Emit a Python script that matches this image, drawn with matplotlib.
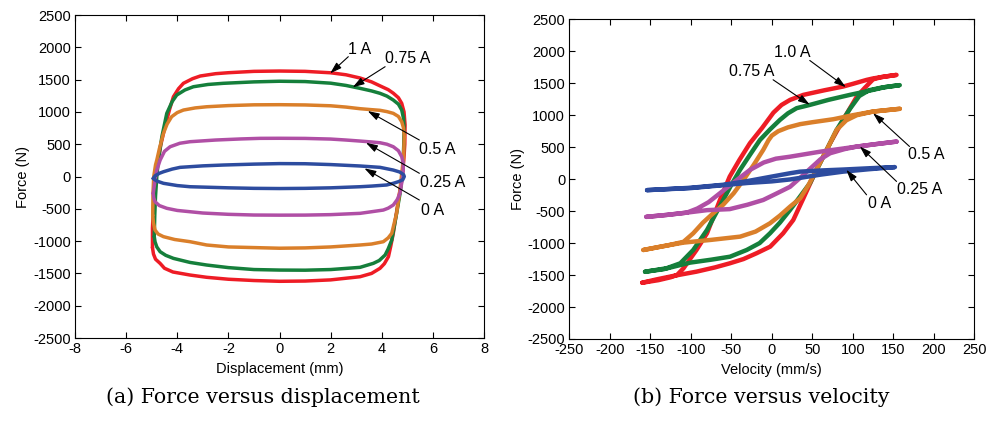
import matplotlib
matplotlib.use("Agg")
import matplotlib.pyplot as plt
import numpy as np

plt.rcParams['font.family'] = ['Liberation Sans', 'DejaVu Sans']
plt.rcParams['axes.unicode_minus'] = False

# ---------------- colours per current ----------------
currents = ["1 A", "0.75 A", "0.5 A", "0.25 A", "0 A"]
colors = ["#EE1C25", "#157F3B", "#DA7F2A", "#B04FA5", "#2D4C9F"]

# ---------------- (a) Force vs displacement loops ----------------
d_x_100 = [-4.97, -4.97, -4.93, -4.87, -4.78, -4.65, -4.48, -4.3, -4.15, -3.95, -3.76, -3.4, -3.1, -2.5, -2.0, -1.0, 0.0,
           1.0, 2.0, 2.6, 3.15, 3.6, 3.95, 4.25, 4.45, 4.65, 4.78, 4.87, 4.91, 4.9, 4.86, 4.78, 4.65, 4.45, 4.35, 4.26,
           4.1, 3.93, 3.6, 3.15, 2.0, 1.0, 0.0, -1.0, -2.0, -2.85, -3.5, -4.17, -4.5, -4.67, -4.85, -4.93, -4.97]
d_f_100 = [-1100, -800, -450, -150, 150, 480, 770, 1040, 1235, 1360, 1443, 1515, 1556, 1592, 1607, 1628, 1633,
           1628, 1606, 1575, 1525, 1465, 1400, 1345, 1290, 1220, 1133, 1000, 800, 500, 250, -54, -364, -879, -1080, -1241,
           -1350, -1421, -1500, -1551, -1600, -1618, -1622, -1610, -1590, -1560, -1525, -1478, -1420, -1345, -1280, -1200, -1100]

d_x_075 = [-4.9, -4.88, -4.85, -4.8, -4.74, -4.6, -4.41, -4.2, -4.02, -3.7, -3.37, -2.8, -2.2, -1.0, 0.0, 1.0, 2.0, 2.6,
           3.15, 3.6, 3.93, 4.2, 4.45, 4.65, 4.78, 4.85, 4.87, 4.86, 4.82, 4.72, 4.58, 4.39, 4.25, 4.13, 3.9, 3.67, 3.15,
           2.0, 1.0, 0.0, -1.0, -2.0, -2.85, -3.5, -4.15, -4.45, -4.67, -4.8, -4.87, -4.9]
d_f_075 = [-930, -600, -300, 0, 255, 620, 978, 1160, 1262, 1340, 1390, 1425, 1443, 1465, 1475, 1470, 1445, 1410,
           1365, 1325, 1288, 1245, 1184, 1120, 1029, 900, 771, 500, 100, -250, -570, -983, -1120, -1215, -1300, -1344, -1406,
           -1440, -1450, -1448, -1440, -1410, -1370, -1330, -1267, -1220, -1164, -1090, -1010, -930]

d_x_050 = [-4.96, -4.95, -4.92, -4.85, -4.8, -4.7, -4.54, -4.4, -4.22, -4.0, -3.76, -3.3, -2.85, -2.0, -1.0, 0.0, 1.0,
           2.0, 2.6, 3.15, 3.6, 3.93, 4.2, 4.45, 4.65, 4.78, 4.85, 4.88, 4.85, 4.78, 4.71, 4.58, 4.45, 4.39, 4.25, 4.06,
           3.6, 3.15, 2.0, 1.0, 0.0, -1.0, -2.0, -2.85, -3.5, -4.1, -4.54, -4.75, -4.87, -4.93, -4.96]
d_f_050 = [-600, -260, 0, 180, 255, 430, 669, 810, 926, 990, 1029, 1062, 1080, 1098, 1110, 1112, 1108,
           1095, 1075, 1050, 1035, 1025, 1005, 978, 930, 848, 750, 616, 300, 50, -209, -570, -780, -879, -950, -1009,
           -1045, -1060, -1090, -1105, -1110, -1100, -1090, -1060, -1009, -975, -931, -890, -828, -720, -600]

d_x_025 = [-4.94, -4.9, -4.87, -4.8, -4.67, -4.5, -4.28, -3.9, -3.5, -2.5, -1.5, -0.76, 0.0, 1.0, 2.0, 2.6, 3.15, 3.6,
           3.93, 4.2, 4.45, 4.65, 4.78, 4.84, 4.84, 4.8, 4.71, 4.6, 4.45, 4.25, 4.06, 3.6, 3.15, 2.0, 1.0, 0.0, -1.0,
           -2.0, -3.0, -3.5, -4.0, -4.41, -4.7, -4.87, -4.92, -4.94]
d_f_025 = [-260, -150, -54, 100, 255, 390, 461, 515, 539, 565, 582, 591, 592, 590, 580, 565, 549, 535,
           523, 500, 461, 400, 307, 200, 100, -50, -260, -360, -441, -490, -519, -545, -570, -590, -597, -598, -596,
           -585, -565, -545, -525, -492, -450, -390, -330, -260]

d_x_000 = [-4.94, -4.87, -4.7, -4.54, -4.2, -3.89, -3.0, -2.2, -1.0, 0.0, 1.0, 2.0, 3.15, 3.93, 4.45, 4.7, 4.85, 4.88,
           4.82, 4.65, 4.45, 4.19, 3.6, 3.15, 2.0, 1.0, 0.0, -1.0, -2.0, -3.5, -4.0, -4.54, -4.8, -4.94]
d_f_000 = [-30, 10, 50, 74, 115, 142, 165, 178, 192, 200, 198, 185, 163, 142, 100, 70, 30, 0,
           -50, -80, -105, -131, -148, -158, -175, -183, -186, -183, -175, -158, -140, -105, -70, -30]

# ---------------- (b) Force vs velocity loops ----------------
v_v_100 = [-160, -142, -122, -93, -70, -52, -35, -19, -2, 14, 26.5, 39, 55, 72, 88, 105, 115, 125, 135, 154,
           140, 125, 117, 100, 88, 65, 39, 22.5, 12, 2, -12, -27, -40, -52, -64, -80, -93, -109, -117, -125, -140, -160]
v_f_100 = [-1620, -1567, -1515, -1447, -1380, -1317, -1250, -1160, -1056, -847, -639, -299, 144, 562, 926, 1291, 1430, 1560, 1595, 1630,
           1605, 1575, 1552, 1490, 1448, 1390, 1318, 1239, 1160, 1040, 800, 562, 300, 39, -326, -847, -1108, -1394, -1499, -1535, -1580, -1620]

v_v_075 = [-156.5, -134, -101, -75, -51.6, -31, -15, -2.2, 10, 22.5, 35, 47, 63.6, 80, 96.5, 108, 120, 135, 158,
           140, 125, 96.5, 70, 47, 30.7, 20, 10, -2, -14.6, -27, -39.3, -50, -60, -70, -80, -97, -113, -130, -145, -156.5]
v_f_075 = [-1447, -1410, -1306, -1260, -1213, -1108, -1000, -847, -680, -482, -270, -64, 352, 770, 1100, 1300, 1390, 1430, 1470,
           1440, 1396, 1318, 1240, 1161, 1110, 1030, 926, 780, 613, 380, 144, -90, -325, -560, -795, -1108, -1316, -1394, -1425, -1450]

v_v_050 = [-158.6, -135, -109, -75, -39, -20, -2.2, 10, 22.5, 35, 45, 55, 67.8, 80, 92, 105, 125, 158,
           125, 100, 76, 50, 35, 20, 8, 0, -4, -10.6, -22, -35, -47, -60, -72, -85, -97, -109, -130, -158.6]
v_f_050 = [-1108, -1050, -993, -950, -899, -820, -690, -570, -430, -300, -100, 144, 457, 770, 920, 1000, 1057, 1100,
           1057, 1000, 937, 890, 860, 810, 750, 680, 610, 457, 230, -13, -220, -400, -530, -680, -847, -980, -1040, -1108]

v_v_025 = [-155, -130, -105, -80, -52, -30, -10.6, 5, 22.5, 35, 47, 60, 72, 90, 105, 130, 154,
           130, 105, 60, 22, 5, -10, -27, -52, -65, -78, -92, -105, -130, -155]
v_f_025 = [-590, -560, -524, -485, -469, -400, -326, -230, -120, 20, 160, 310, 405, 470, 509, 550, 587,
           550, 509, 430, 350, 320, 260, 144, -100, -230, -360, -460, -524, -560, -590]

v_v_000 = [-154, -100, -60, -30, 0, 22.5, 35, 60, 88, 120, 152,
           120, 88, 60, 34.8, 22.5, 0, -30, -60, -100, -154]
v_f_000 = [-172, -140, -95, -60, -35, -5, 20, 70, 117, 155, 188,
           170, 150, 135, 117, 92, 40, -30, -88, -135, -172]

disp_x = [d_x_100, d_x_075, d_x_050, d_x_025, d_x_000]
disp_f = [d_f_100, d_f_075, d_f_050, d_f_025, d_f_000]
vel_v = [v_v_100, v_v_075, v_v_050, v_v_025, v_v_000]
vel_f = [v_f_100, v_f_075, v_f_050, v_f_025, v_f_000]

# annotation labels
labels_a = ["1 A", "0.75 A", "0.5 A", "0.25 A", "0 A"]
labels_b = ["1.0 A", "0.75 A", "0.5 A", "0.25 A", "0 A"]

fig = plt.figure(figsize=(9.96, 4.21), dpi=100)
ax1 = fig.add_axes([0.0753, 0.1971, 0.4107, 0.7672])
ax2 = fig.add_axes([0.5716, 0.1948, 0.4066, 0.7594])

for i in range(5):
    ax1.plot(disp_x[i], disp_f[i], color=colors[i], lw=2.5, solid_joinstyle='round', solid_capstyle='round')
    ax2.plot(vel_v[i], vel_f[i], color=colors[i], lw=3.2, solid_joinstyle='round', solid_capstyle='round')

for ax in (ax1, ax2):
    ax.set_ylim(-2500, 2500)
    ax.set_yticks(np.arange(-2500, 2501, 500))
    ax.tick_params(direction='in', length=4, width=0.8, top=True, right=True, labelsize=10.5, pad=3)
    for s in ax.spines.values():
        s.set_linewidth(0.8)
    ax.set_ylabel("Force (N)", fontsize=10.5, labelpad=2)

ax1.set_xlim(-8, 8)
ax1.set_xticks(np.arange(-8, 9, 2))
ax1.set_xlabel("Displacement (mm)", fontsize=10.5, labelpad=4)
ax2.set_xlim(-250, 250)
ax2.set_xticks(np.arange(-250, 251, 50))
ax2.set_xlabel("Velocity (mm/s)", fontsize=10.5, labelpad=4)

arrow = dict(arrowstyle='-|>,head_length=0.7,head_width=0.22', color='black', lw=0.8, shrinkA=0, shrinkB=0)

# (a) annotations: text position, arrow tail, arrow head
a_text = [(3.15, 1969), (5.0, 1830), (6.15, 426), (6.38, -96), (5.98, -519)]
a_tail = [(2.69, 1855), (4.13, 1700), (5.47, 565), (5.47, 50), (5.47, -364)]
a_head = [(1.98, 1597), (2.86, 1381), (3.45, 1014), (3.38, 523), (3.32, 127)]
for lab, t, s, h in zip(labels_a, a_text, a_tail, a_head):
    ax1.annotate('', xy=h, xytext=s, arrowprops=arrow)
    ax1.text(t[0], t[1], lab, fontsize=11.5, ha='center', va='center')

b_text = [(25.5, 1981), (-25, 1684), (191, 381), (182, -156), (132.5, -386)]
b_tail = [(46.9, 1856), (1.6, 1554), (170, 511), (154, -36), (117, -245)]
b_head = [(91.4, 1439), (46.9, 1163), (125, 1032), (108.6, 511), (92, 146)]
for lab, t, s, h in zip(labels_b, b_text, b_tail, b_head):
    ax2.annotate('', xy=h, xytext=s, arrowprops=arrow)
    ax2.text(t[0], t[1], lab, fontsize=11.5, ha='center', va='center')

fig.text(0.264, 0.057, "(a) Force versus displacement", fontsize=14.8, ha='center', va='center',
         family=['DejaVu Serif'])
fig.text(0.764, 0.057, "(b) Force versus velocity", fontsize=14.8, ha='center', va='center',
         family=['DejaVu Serif'])

fig.savefig("out.png", dpi=100)
